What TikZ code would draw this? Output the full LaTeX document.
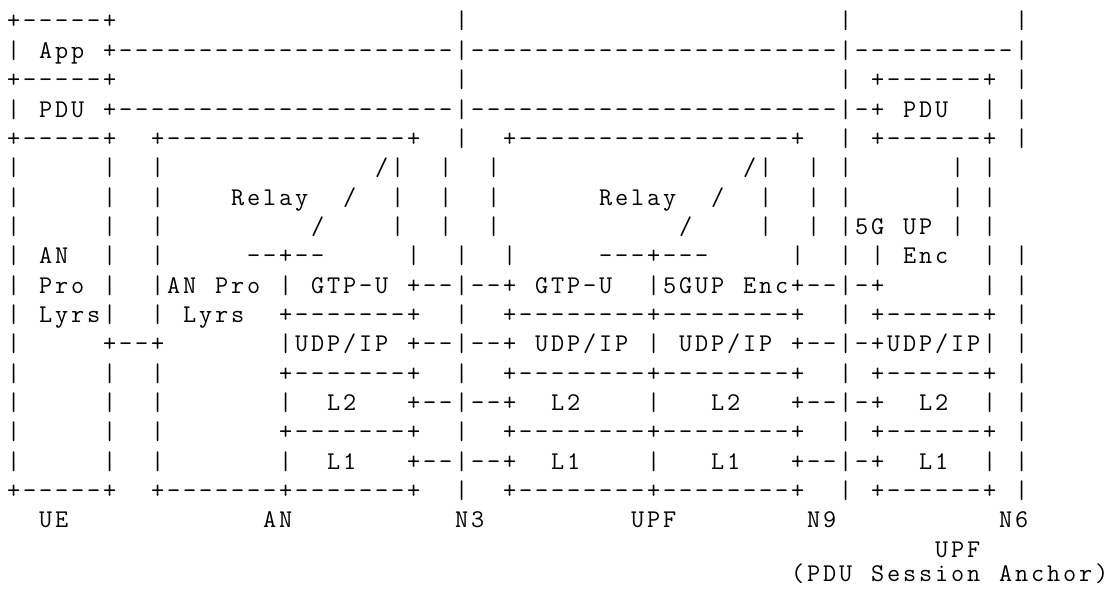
\documentclass[tikz,border=0pt]{standalone}
\newlength\cw
\setlength\cw{16pt}
% one monospaced cell per character; '.' stands for a blank cell
\def\ascline#1{\ascloop#1\relax}
\def\ascloop#1{\ifx#1\relax\else\ifx#1.\hbox to\cw{}\else\hbox to\cw{\hss#1\hss}\fi\expandafter\ascloop\fi}
\tikzset{asc/.style={anchor=base west, inner sep=0pt, outer sep=0pt,
  font=\ttfamily\fontsize{25.5}{30}\selectfont, text=black}}
% segment of a row: row, column, characters
\newcommand\A[3]{\node[asc] (n#1x#2) at ({5.7+16*#2},{560-29.34*#1}) {\ascline{#3}};}
% run of dashes: row, first column, count
\newcommand\DR[3]{\node[asc] (d#1x#2) at ({5.7+16*#2},{560-29.34*#1}) {\foreach\k in {1,...,#3}{\hbox to\cw{\hss-\hss}}};}
\begin{document}
\begin{tikzpicture}[x=1pt,y=1pt]
\fill[white] (0,0) rectangle (1112,589);
\useasboundingbox (0,0) rectangle (1112,589);
% row 0
\A{0}{0}{+-----+} \A{0}{28}{|} \A{0}{52}{|} \A{0}{63}{|}
% row 1
\A{1}{0}{|.App.+} \DR{1}{7}{21} \A{1}{28}{|} \DR{1}{29}{23} \A{1}{52}{|} \DR{1}{53}{10} \A{1}{63}{|}
% row 2
\A{2}{0}{+-----+} \A{2}{28}{|} \A{2}{52}{|.+------+.|}
% row 3
\A{3}{0}{|.PDU.+} \DR{3}{7}{21} \A{3}{28}{|} \DR{3}{29}{23} \A{3}{52}{|-+.PDU..|.|}
% row 4
\A{4}{0}{+-----+..+} \DR{4}{10}{15} \A{4}{25}{+..|..+} \DR{4}{32}{17} \A{4}{49}{+..|.+------+.|}
% row 5
\A{5}{0}{|.....|..|} \A{5}{23}{/|..|..|} \A{5}{46}{/|..|.|......|.|}
% row 6
\A{6}{0}{|.....|..|} \A{6}{14}{Relay../..|..|..|} \A{6}{37}{Relay../..|..|.|......|.|}
% row 7
\A{7}{0}{|.....|..|} \A{7}{19}{/....|..|..|} \A{7}{42}{/....|..|.|5G.UP.|.|}
% row 8
\A{8}{0}{|.AN..|..|} \A{8}{15}{--+--} \A{8}{25}{|..|..|} \A{8}{37}{---+---} \A{8}{49}{|..|.|.Enc..|.|}
% row 9
\A{9}{0}{|.Pro.|..|AN.Pro.|} \A{9}{19}{GTP-U.+--|--+} \A{9}{33}{GTP-U..|5GUP.Enc+--|-+} \A{9}{61}{|.|}
% row 10
\A{10}{0}{|.Lyrs|..|.Lyrs} \A{10}{17}{+-------+..|..+--------+--------+..|.+------+.|}
% row 11
\A{11}{0}{|.....+--+} \A{11}{17}{|UDP/IP.+--|--+.UDP/IP.|.UDP/IP.+--|-+UDP/IP|.|}
% row 12
\A{12}{0}{|.....|..|} \A{12}{17}{+-------+..|..+--------+--------+..|.+------+.|}
% row 13
\A{13}{0}{|.....|..|} \A{13}{17}{|..L2...+--|--+..L2....|...L2...+--|-+..L2..|.|}
% row 14
\A{14}{0}{|.....|..|} \A{14}{17}{+-------+..|..+--------+--------+..|.+------+.|}
% row 15
\A{15}{0}{|.....|..|} \A{15}{17}{|..L1...+--|--+..L1....|...L1...+--|-+..L1..|.|}
% row 16
\A{16}{0}{+-----+..+-------+-------+} \A{16}{28}{|..+--------+--------+..|.+------+.|}
% row 17
\A{17}{2}{UE} \A{17}{16}{AN} \A{17}{28}{N3} \A{17}{39}{UPF} \A{17}{50}{N9} \A{17}{62}{N6}
% row 18
\A{18}{58}{UPF}
% row 19 (raised a little so the parentheses stay inside the page)
\node[asc] (anchorlabel) at ({5.7+16*49},7.5) {\ascline{(PDU.Session.Anchor)}};
\end{tikzpicture}
\end{document}
